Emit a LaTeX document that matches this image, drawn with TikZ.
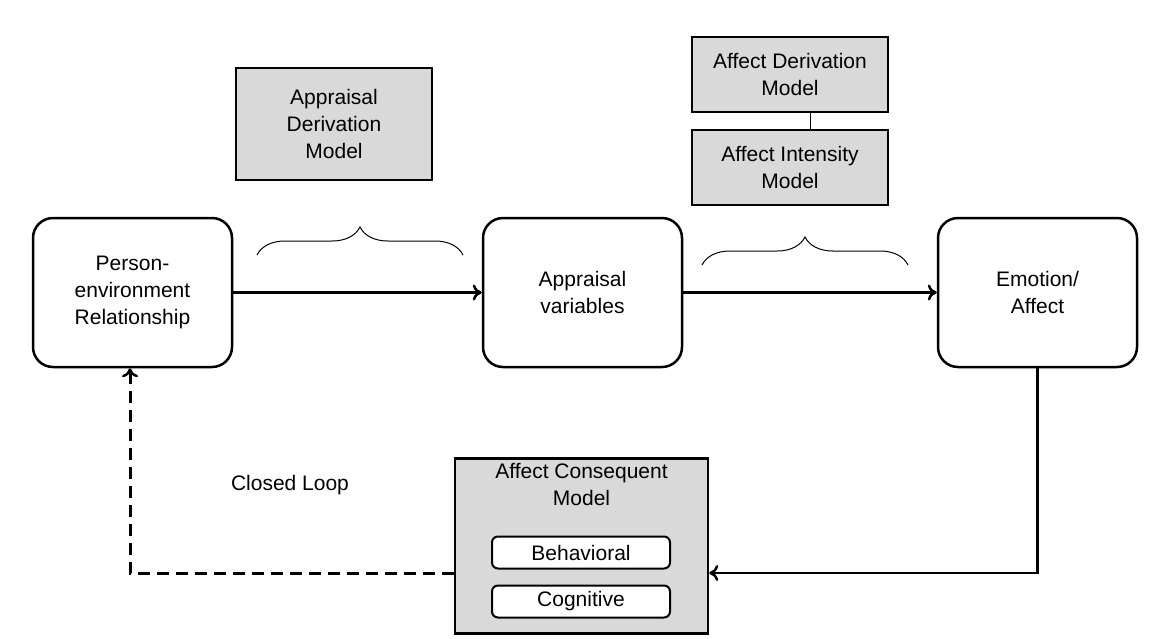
\documentclass[tikz,border=0pt]{standalone}
\usepackage{fontspec}
\setmainfont{Liberation Sans}
\usetikzlibrary{positioning,arrows.meta,decorations.pathreplacing}

\tikzset{
    stage/.style = {draw, line width=2.5pt, rounded corners=20pt, fill=white,
                    minimum width=199pt, minimum height=149pt, align=center,
                    font=\fontsize{21}{27}\selectfont},
    model/.style = {draw, line width=2.5pt, fill=gray!30, align=center,
                    minimum width=196pt, font=\fontsize{21}{27}\selectfont},
    inner/.style = {draw, line width=2pt, rounded corners=6pt, fill=white,
                    minimum width=178pt, minimum height=32pt,
                    font=\fontsize{21}{27}\selectfont},
    flow/.style  = {line width=2.5pt, -{To[length=9pt,width=16pt,line width=2.5pt]}},
    curly/.style = {draw, line width=1pt, decorate, decoration={brace, amplitude=28pt}}
}

\begin{document}
\begin{tikzpicture}[x=1pt, y=-1pt]
    \useasboundingbox (0,0) rectangle (1170,638);
    % stages
    \node[stage] (pe)  at (132.5,292.5) {Person-\\environment\\Relationship};
    \node[stage] (av)  at (582.5,292.5) {Appraisal\\variables};
    \node[stage] (emo) at (1037.5,292.5) {Emotion/\\Affect};
    % models
    \node[model, minimum height=112pt] (adm) at (334,124) {Appraisal\\Derivation\\Model};
    \node[model, minimum height=75pt] (afd) at (790,74.5) {Affect Derivation\\Model};
    \node[model, minimum height=75pt] (aim) at (790,167.5) {Affect Intensity\\Model};
    \draw[line width=1pt] (afd.south -| 810,0) -- (aim.north -| 810,0);
    \node[model, minimum width=253pt, minimum height=175pt] (acm) at (581.5,546) {};
    \node[font=\fontsize{21}{27}\selectfont, align=center, below=3pt of acm.north] (acmt) {Affect Consequent\\Model};
    \node[inner] (beh) at (581,552.5) {Behavioral};
    \node[inner] (cog) at (581,601.5) {Cognitive};
    % braces
    \draw[curly] (257,255) -- (463,255);
    \draw[curly] (702,265) -- (908,265);
    % arrows
    \draw[flow] (pe) -- (av);
    \draw[flow] (av) -- (emo);
    \coordinate (turn) at (emo.south |- 0,573);
    \draw[flow] (emo.south) -- (turn) -- (acm.east |- turn);
    \coordinate (back) at (130,573);
    \draw[flow, line width=3pt, dash pattern=on 12pt off 7pt] (acm.west |- back) -- (back) -- (pe.south -| back);
    \node[font=\fontsize{21}{27}\selectfont] (loop) at (290,485) {Closed Loop};
\end{tikzpicture}
\end{document}
